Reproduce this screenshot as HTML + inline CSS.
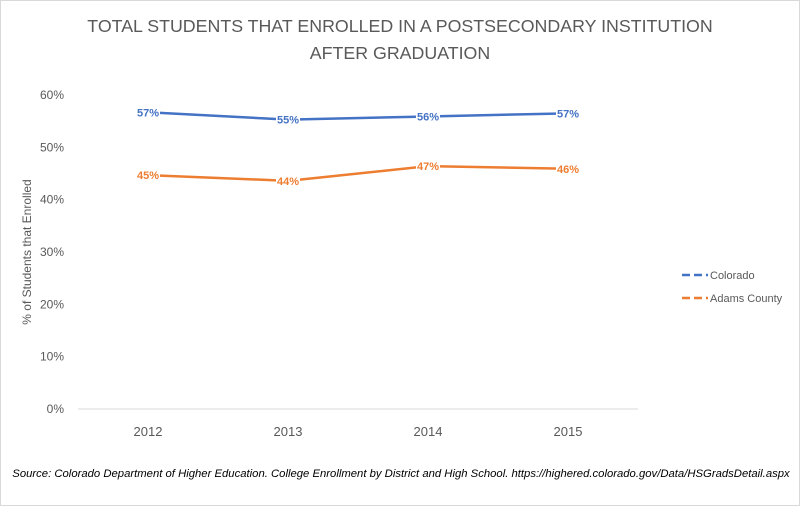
<!DOCTYPE html>
<html><head><meta charset="utf-8"><style>
body{margin:0;background:#fff}
svg{display:block;font-family:"Liberation Sans",sans-serif}
</style></head><body>
<svg id="chart" width="800" height="506" viewBox="0 0 800 506">
<rect x="0.5" y="0.5" width="799" height="505" fill="#fff" stroke="#d9d9d9"/>
<text x="400" y="32" text-anchor="middle" font-size="17.8" fill="#595959">TOTAL STUDENTS THAT ENROLLED IN A POSTSECONDARY INSTITUTION</text>
<text x="400" y="59" text-anchor="middle" font-size="17.8" fill="#595959">AFTER GRADUATION</text>
<text transform="translate(31,252) rotate(-90)" text-anchor="middle" font-size="12" fill="#595959">% of Students that Enrolled</text>
<g id="grid"></g><g id="series"></g>
<g>
<line x1="682" y1="275" x2="708" y2="275" stroke="#4472c4" stroke-width="2.5" stroke-dasharray="8,4"/>
<text x="710" y="279" font-size="11" fill="#595959">Colorado</text>
<line x1="682" y1="298" x2="708" y2="298" stroke="#ed7d31" stroke-width="2.5" stroke-dasharray="8,4"/>
<text x="710" y="302" font-size="11" fill="#595959">Adams County</text>
</g>
<text x="401" y="477" text-anchor="middle" font-size="11.3" font-style="italic" fill="#000">Source: Colorado Department of Higher Education. College Enrollment by District and High School. https://highered.colorado.gov/Data/HSGradsDetail.aspx</text>
</svg>
<script>
const categories=["2012","2013","2014","2015"];
const colorado=[56.7,55.3,55.9,56.5];
const adams=[44.7,43.6,46.4,45.9];
const coloradoLabels=["57%","55%","56%","57%"];
const adamsLabels=["45%","44%","47%","46%"];
const yTicks=[0,10,20,30,40,50,60];
const ns="http://www.w3.org/2000/svg";
const L=78,R=638,T=95,B=409;
const x=i=>L+(R-L)/categories.length*(i+0.5);
const y=v=>B-(B-T)*v/60;
const grid=document.getElementById('grid'),ser=document.getElementById('series');
function mk(tag,a,p){const e=document.createElementNS(ns,tag);for(const k in a)e.setAttribute(k,a[k]);p.appendChild(e);return e;}
yTicks.forEach(t=>{
 const tx=mk('text',{x:64,y:y(t)+4,'text-anchor':'end','font-size':12,fill:'#595959'},grid);
 tx.textContent=t+'%';
 
 
});
const ax=mk('line',{x1:L,x2:R,y1:B,y2:B,stroke:'#d9d9d9'},grid);


categories.forEach((c,i)=>{
 const tx=mk('text',{x:x(i),y:436,'text-anchor':'middle','font-size':13,fill:'#595959'},grid);
 tx.textContent=c;
 
 
});
function series(vals,labels,color,name){
 const pl=mk('polyline',{points:vals.map((v,i)=>x(i)+','+y(v)).join(' '),fill:'none',stroke:color,'stroke-width':2.5},ser);
 
 
 vals.forEach((v,i)=>{
  mk('rect',{x:x(i)-12,y:y(v)-7,width:24,height:13,fill:'#fff'},ser);
  const tx=mk('text',{x:x(i),y:y(v)+4,'text-anchor':'middle','font-size':11,'font-weight':'bold',fill:color},ser);
  tx.textContent=labels[i];
  
  
 });
}
series(colorado,coloradoLabels,'#4472c4','colorado');
series(adams,adamsLabels,'#ed7d31','adams');
</script>
</body></html>
